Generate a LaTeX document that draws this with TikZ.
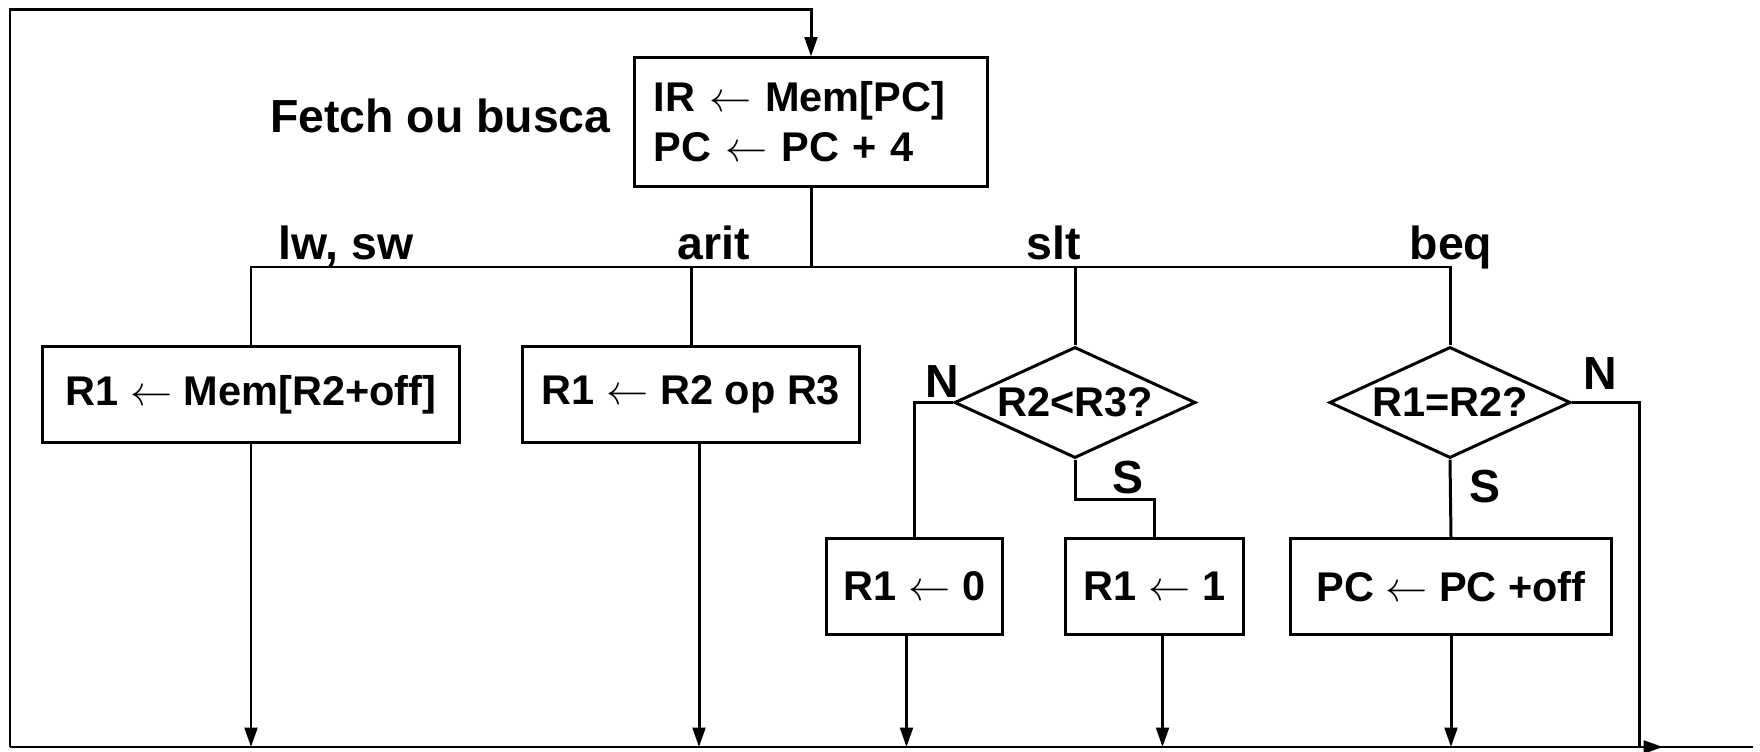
\documentclass[tikz,border=0pt]{standalone}
\usepackage{fontspec}
\setmainfont{Liberation Sans}
\usetikzlibrary{shapes.geometric,arrows.meta}
\begin{document}
\begin{tikzpicture}[x=0.01cm,y=-0.01cm,
  line width=0.85pt,
  box/.style={draw, rectangle, inner sep=0pt, minimum height=0.95cm,
    font=\fontsize{11.8}{14.2}\selectfont\bfseries},
  dia/.style={draw, diamond, inner sep=0pt, shape aspect=2.17,
    minimum width=2.41cm, minimum height=1.11cm,
    font=\fontsize{11.8}{14.2}\selectfont\bfseries},
  lbl/.style={font=\fontsize{13.2}{15}\selectfont\bfseries, inner sep=0pt},
  arr/.style={-{Triangle[length=5.5pt,width=3.6pt]}},
]
\useasboundingbox (0,0) rectangle (1760,752);

% fetch
\node[box, align=left, text width=3.14cm, inner xsep=0.19cm, minimum width=3.52cm,
      minimum height=1.28cm] (fetch) at (811,122)
      {IR $\leftarrow$ Mem[PC]\\PC $\leftarrow$ PC + 4};
\node[lbl, anchor=base east] (flbl) at (612,133) {Fetch ou busca};

% bus labels
\node[lbl, anchor=base] (llw) at (346,260) {lw, sw};
\node[lbl, anchor=base] (larit) at (714,260) {arit};
\node[lbl, anchor=base] (lslt) at (1054,260) {slt};
\node[lbl, anchor=base] (lbeq) at (1451,260) {beq};

% second row
\node[box, minimum width=4.16cm] (b1) at (251,394.5) {R1 $\leftarrow$ Mem[R2+off]};
\node[box, minimum width=3.36cm] (b2) at (691,394.5) {R1 $\leftarrow$ R2 op R3};
\node[dia] (d1) at (1075,402.5) {R2<R3?};
\node[dia] (d2) at (1450,402.5) {R1=R2?};

% third row
\node[box, minimum width=1.75cm] (r0) at (914.5,586.5) {R1 $\leftarrow$ 0};
\node[box, minimum width=1.77cm] (r1) at (1154.5,586.5) {R1 $\leftarrow$ 1};
\node[box, minimum width=3.20cm] (pc) at (1451,586.5) {PC $\leftarrow$ PC +off};

% N / S labels
\node[lbl, anchor=base] (n1) at (942,398) {N};
\node[lbl, anchor=base] (s1) at (1128,494) {S};
\node[lbl, anchor=base] (s2) at (1485,503) {S};
\node[lbl, anchor=base] (n2) at (1600,390) {N};

% coordinates
\coordinate (bus) at (251,267);
\coordinate (BL) at (10,747);
\coordinate (BR) at (1753,747);
\coordinate (NC) at (1639,747);

% bus
\draw (fetch.south) -- (fetch.south |- bus);
\draw (b1.north) -- (b1.north |- bus) -- (d2.north |- bus) -- (d2.north);
\draw (b2.north) -- (b2.north |- bus);
\draw (d1.north) -- (d1.north |- bus);

% decisions
\draw (d1.west) -| (r0.north);
\draw (d1.south) -- ++(0,40) -| (r1.north);
\draw (d2.south) -- (pc.north);
\draw[arr] (d2.east) -| (NC) -- ++(24,0);

% returns
\draw[arr] (b1.south) -- (b1.south |- BL);
\draw[arr] ([xshift=0.08cm]b2.south) -- ([xshift=0.08cm]b2.south |- BL);
\draw[arr] ([xshift=-0.08cm]r0.south) -- ([xshift=-0.08cm]r0.south |- BL);
\draw[arr] ([xshift=0.08cm]r1.south) -- ([xshift=0.08cm]r1.south |- BL);
\draw[arr] (pc.south) -- (pc.south |- BL);

% loop
\draw (BL) -- (BR);
\draw[arr] (BL) -- (10,10) -| (fetch.north);
\end{tikzpicture}
\end{document}
